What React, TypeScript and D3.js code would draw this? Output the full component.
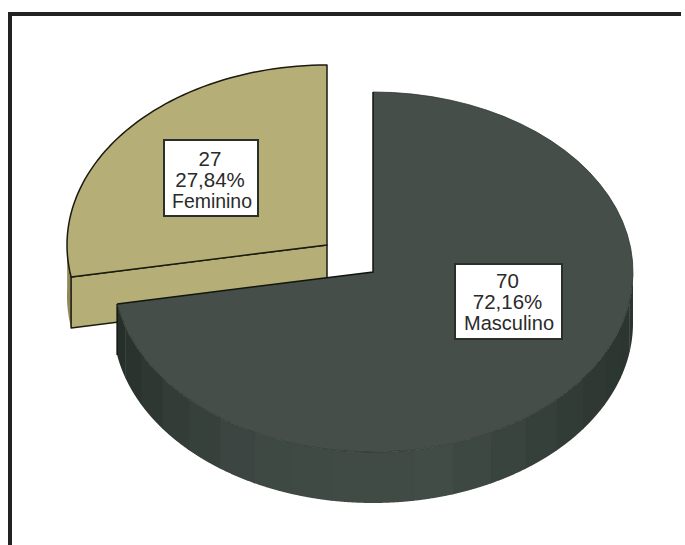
import React from "react";
import * as d3 from "d3";

const categories = ["Masculino", "Feminino"];
const counts = [70, 27];
const topColors = ["#454e49", "#b5ae76"];
const rimShadeStops = ["#2a332e", "#2f3933", "#414c46", "#3f4944", "#2e3632", "#262e2a"];
const rimShadeAngles = [90, 125, 165, 205, 240, 260];

const width = 685;
const height = 545;
const rx = 260;
const ry = 180;
const depth = 51;
const hubs = [
  { x: 373, y: 272 },
  { x: 327, y: 245 },
];
const labelBoxes = [
  { x: 455, y: 264, w: 107, h: 75, baseline: 24, lastWidth: 90, lastShift: 1.5 },
  { x: 164, y: 140, w: 94, h: 76, baseline: 25.5, lastWidth: 80, lastShift: 2 },
];

const slices = d3.pie<number>().sort(null)(counts);
const total = d3.sum(counts);
const pctText = (v: number) => ((v / total) * 100).toFixed(2).replace(".", ",") + "%";

const toDeg = (r: number) => (r * 180) / Math.PI;
const toRad = (d: number) => (d * Math.PI) / 180;

// Tilted-disc projection: angle runs clockwise from 12 o'clock.
const project = (hub: { x: number; y: number }, a: number, dy = 0): [number, number] => [
  hub.x + rx * Math.sin(a),
  hub.y - ry * Math.cos(a) + dy,
];
const line = d3.line();
const arcPoints = (hub: { x: number; y: number }, a0: number, a1: number, dy = 0) =>
  d3.range(0, 61).map((i) => project(hub, a0 + ((a1 - a0) * i) / 60, dy));

const rimShade = d3
  .scaleLinear<string>()
  .domain(rimShadeAngles)
  .range(rimShadeStops)
  .interpolate(d3.interpolateRgb);

const bandStep = 9;

export default function App() {
  const [main, other] = slices;
  const mainStartDeg = 90;
  const mainEndDeg = toDeg(main.endAngle);
  const bandStarts = d3.range(mainStartDeg, mainEndDeg, bandStep);

  const femHub = hubs[1];
  const mainHub = hubs[0];
  const seam = project(femHub, other.startAngle);
  const seamLow = project(femHub, other.startAngle, depth);
  const hubLow: [number, number] = [femHub.x, femHub.y + depth];

  return (
    <svg
      width={width}
      height={height}
      style={{ position: "absolute", left: 0, top: 0, background: "#fff" }}
    >
      <path d={`M10,${height} V14 H${width - 4}`} fill="none" stroke="#222222" strokeWidth={4} />

      {/* Detached slice: outer rim sliver, cut wall, then top face */}
      <path
        d={
          line([
            ...arcPoints(femHub, other.startAngle, toRad(272)),
            ...arcPoints(femHub, toRad(272), other.startAngle, depth),
          ]) + "Z"
        }
        fill="#8f8a57"
      />
      <path
        d={line([[femHub.x, femHub.y], seam, seamLow, hubLow]) + "Z"}
        fill={topColors[1]}
        stroke="#1a1a10"
        strokeWidth={1.5}
        strokeLinejoin="round"
      />
      <path
        d={line([[femHub.x, femHub.y], ...arcPoints(femHub, other.startAngle, other.endAngle)]) + "Z"}
        fill={topColors[1]}
        stroke="#1a1a10"
        strokeWidth={1.5}
        strokeLinejoin="round"
      />

      {/* Main slice: shaded rim bands, then top face */}
      {bandStarts.map((d) => {
        const a0 = toRad(d);
        const a1 = toRad(Math.min(d + bandStep + 0.3, mainEndDeg));
        return (
          <path
            key={d}
            d={line([...arcPoints(mainHub, a0, a1), ...arcPoints(mainHub, a1, a0, depth)]) + "Z"}
            fill={rimShade(d + bandStep / 2)}
          />
        );
      })}
      <path
        d={line([project(mainHub, main.endAngle), project(mainHub, main.endAngle, depth)]) ?? ""}
        stroke="#11160f"
        strokeWidth={1.5}
        fill="none"
      />
      <path
        d={line([[mainHub.x, mainHub.y], ...arcPoints(mainHub, main.startAngle, main.endAngle)]) + "Z"}
        fill={topColors[0]}
        stroke="none"
      />
      <path
        d={line(arcPoints(mainHub, main.startAngle, main.endAngle)) ?? ""}
        fill="none"
        stroke="#2a322e"
        strokeWidth={0.8}
      />
      <path
        d={
          line([
            project(mainHub, main.startAngle),
            [mainHub.x, mainHub.y],
            project(mainHub, main.endAngle),
          ]) ?? ""
        }
        fill="none"
        stroke="#11160f"
        strokeWidth={1.5}
      />

      {/* Value labels */}
      {slices.map((s, i) => {
        const b = labelBoxes[i];
        const cx = b.x + b.w / 2 - 1;
        const rows = [String(counts[i]), pctText(counts[i]), categories[i]];
        return (
          <g key={categories[i]}>
            <rect
              x={b.x}
              y={b.y}
              width={b.w}
              height={b.h}
              fill="#fff"
              stroke="#2b2f2c"
              strokeWidth={2}
            />
            {rows.map((t, j) => (
              <text
                key={j}
                x={j === 2 ? cx + b.lastShift : cx}
                y={b.y + b.baseline + j * 21}
                textAnchor="middle"
                fontFamily="Liberation Sans"
                fontSize={20.5}
                textLength={j === 2 ? b.lastWidth : undefined}
                lengthAdjust="spacingAndGlyphs"
                fill="#2a2a2a"
              >
                {t}
              </text>
            ))}
          </g>
        );
      })}
    </svg>
  );
}
